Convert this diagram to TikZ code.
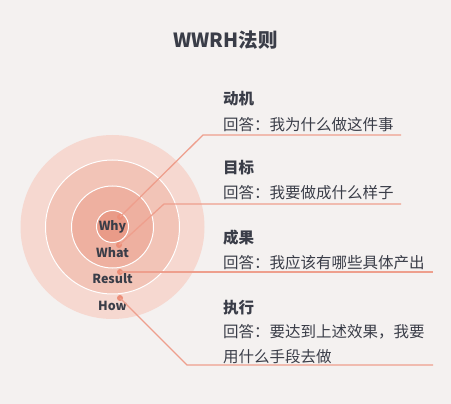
\documentclass[tikz,border=0pt]{standalone}
\usepackage{fontspec}
\setmainfont{Noto Sans CJK SC}
\definecolor{bg}{HTML}{F4F1F0}
\definecolor{c1}{HTML}{F6D8D0}
\definecolor{c2}{HTML}{F2C4B7}
\definecolor{c3}{HTML}{EEB0A0}
\definecolor{c4}{HTML}{E99B88}
\definecolor{ln}{HTML}{EE9F8D}
\definecolor{dot}{HTML}{EC8E78}
\definecolor{txt}{HTML}{3A3D48}
\tikzset{
  ring/.style={draw=white, line width=1pt},
  lbl/.style={font=\fontsize{12.5}{13}\selectfont\bfseries, text=txt, inner sep=0pt},
  head/.style={font=\fontsize{15.5}{16}\selectfont\bfseries, text=txt, anchor=west, inner sep=0pt},
  body/.style={font=\fontsize{15.5}{16}\selectfont, text=txt, anchor=west, inner sep=0pt},
  conn/.style={draw=ln, line width=1.3pt},
  pt/.style={circle, fill=dot, inner sep=0pt, minimum size=6pt},
}
\begin{document}
\begin{tikzpicture}[x=1pt,y=-1pt]
\fill[bg] (0,0) rectangle (451,404);
\useasboundingbox (0,0) rectangle (451,404);
\node[font=\fontsize{19.5}{20}\selectfont\bfseries, text=txt] (title) at (225.5,40) {WWRH法则};
% circles
\fill[c1] (112.5,227) circle (92);
\draw[ring, fill=c2] (112.5,227) circle (67);
\draw[ring, fill=c3] (112.5,227) circle (41);
\draw[ring, fill=c4] (112.5,226.5) circle (16);
% labels
\node[lbl] (why) at (112.5,227) {Why};
\node[lbl] (what) at (112.5,253) {What};
\node[lbl] (result) at (112.5,279) {Result};
\node[lbl] (how) at (112.5,306) {How};
% dots
\node[pt] (d1) at (120,217) {};
\node[pt] (d2) at (119,245) {};
\node[pt] (d3) at (120,272) {};
\node[pt] (d4) at (120,298) {};
% corners and ends
\coordinate (k1) at (203,135);
\coordinate (e1) at (401,135);
\coordinate (k2) at (164,204);
\coordinate (e2) at (401,204);
\coordinate (e3) at (433,272);
\coordinate (k4) at (187,365);
\coordinate (e4) at (433,365);
\draw[conn] (d1.center) -- (k1) -- (e1);
\draw[conn] (d2.center) -- (k2) -- (e2);
\draw[conn] (d3.center) -- (e3);
\draw[conn] (d4.center) -- (k4) -- (e4);
% texts
\node[head] (h1) at (223,99) {动机};
\node[body] (b1) at (223,125) {回答：我为什么做这件事};
\node[head] (h2) at (223,168) {目标};
\node[body] (b2) at (223,193) {回答：我要做成什么样子};
\node[head] (h3) at (223,238) {成果};
\node[body] (b3) at (223,263) {回答：我应该有哪些具体产出};
\node[head] (h4) at (223,308) {执行};
\node[body] (b4) at (223,332) {回答：要达到上述效果，我要};
\node[body] (b5) at (223,357) {用什么手段去做};
\end{tikzpicture}
\end{document}
